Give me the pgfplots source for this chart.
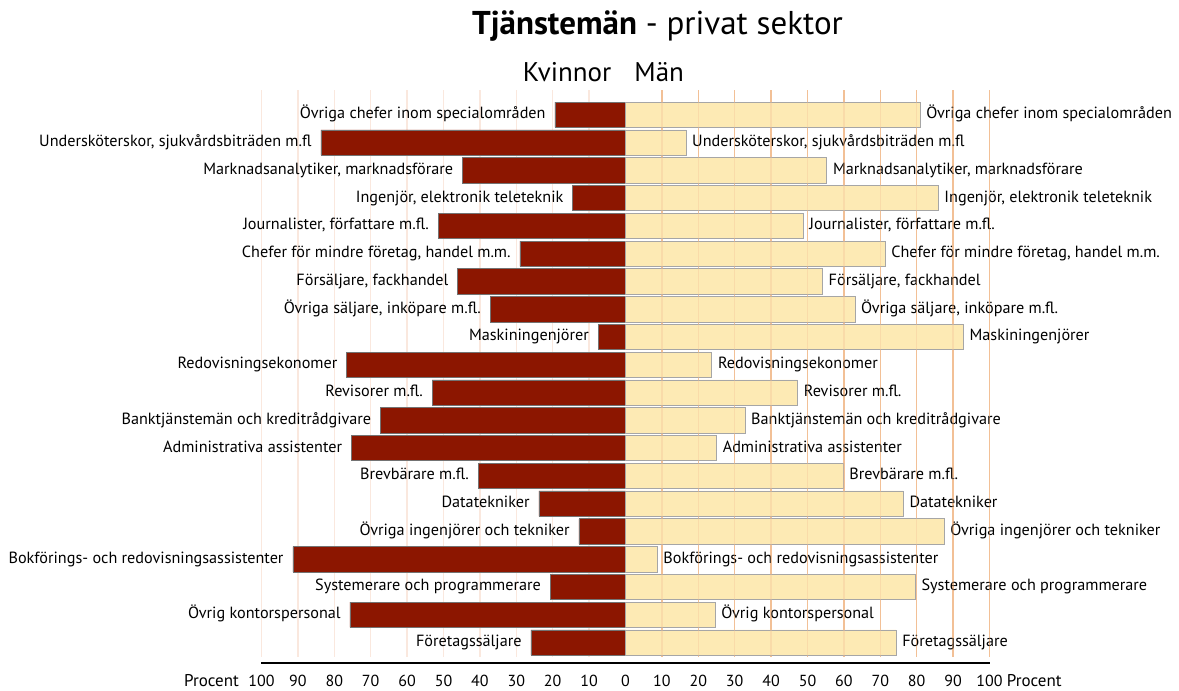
\documentclass[border=0pt]{standalone}
\usepackage{pgfplots}
\pgfplotsset{compat=1.18}
\usepackage{pgfplotstable}
\usepackage{fontspec}
\setmainfont{PT Sans}
\definecolor{womc}{RGB}{140,22,0}
\definecolor{menc}{RGB}{253,234,180}
\definecolor{gridR}{RGB}{242,192,150}
\definecolor{gridL}{RGB}{250,232,222}

\pgfplotstableread[col sep=semicolon]{
y;W;M;label
20;19.4;80.9;Övriga chefer inom specialområden
19;83.7;16.6;Undersköterskor, sjukvårdsbiträden m.fl
18;44.8;55.3;Marknadsanalytiker, marknadsförare
17;14.5;85.9;Ingenjör, elektronik teleteknik
16;51.5;48.8;Journalister, författare m.fl.
15;29.0;71.3;Chefer för mindre företag, handel m.m.
14;46.1;54.1;Försäljare, fackhandel
13;37.2;63.0;Övriga säljare, inköpare m.fl.
12;7.5;92.8;Maskiningenjörer
11;76.6;23.7;Redovisningsekonomer
10;53.1;47.3;Revisorer m.fl.
9;67.3;32.8;Banktjänstemän och kreditrådgivare
8;75.3;25.0;Administrativa assistenter
7;40.5;59.8;Brevbärare m.fl.
6;23.8;76.3;Datatekniker
5;12.8;87.5;Övriga ingenjörer och tekniker
4;91.4;8.7;Bokförings- och redovisningsassistenter
3;20.7;79.6;Systemerare och programmerare
2;75.7;24.6;Övrig kontorspersonal
1;26.0;74.3;Företagssäljare
}\data

\begin{document}
\begin{tikzpicture}
\begin{axis}[
  set layers,
  scale only axis, width=364pt, height=286.6pt,
  xmin=-100, xmax=100, ymin=0.262, ymax=20.9,
  axis x line*=bottom, axis y line=none,
  x axis line style={-, line width=0.9pt, black},
  xtick={-100,-90,...,100},
  xticklabels={100,90,80,70,60,50,40,30,20,10,0,10,20,30,40,50,60,70,80,90,100},
  major tick length=0pt,
  xticklabel style={font=\fontsize{8}{10}\selectfont, anchor=base, yshift=-11.85pt, inner sep=0pt},
  ytick=\empty,
  clip=false,
]
\begin{pgfonlayer}{axis background}
\pgfplotsinvokeforeach{-100,-90,...,-10}{\draw[gridL, line width=0.7pt] (axis cs:#1,0.49) -- (axis cs:#1,20.9);}
\pgfplotsinvokeforeach{10,20,...,100}{\draw[gridR, line width=0.7pt] (axis cs:#1,0.49) -- (axis cs:#1,20.9);}
\end{pgfonlayer}
\addplot[xbar, bar width=0.91, bar shift=0pt, fill=womc, draw=black!55, line width=0.3pt,
  point meta=explicit symbolic, nodes near coords,
  every node near coord/.append style={anchor=base east, xshift=-4.5pt, yshift=-2pt, text=black, font=\fontsize{8.1}{10}\selectfont, inner sep=0pt}]
  table[x expr=-\thisrow{W}, y=y, meta=label]{\data};
\addplot[xbar, bar width=0.91, bar shift=0pt, fill=menc, draw=black!35, line width=0.3pt,
  point meta=explicit symbolic, nodes near coords,
  every node near coord/.append style={anchor=base west, xshift=3pt, yshift=-2pt, text=black, font=\fontsize{8.1}{10}\selectfont, inner sep=0pt}]
  table[x=M, y=y, meta=label]{\data};
\begin{pgfonlayer}{axis foreground}
\pgfplotsinvokeforeach{10,20,...,100}{\draw[gridR, opacity=0.35, line width=0.7pt] (axis cs:#1,0.49) -- (axis cs:#1,20.9);}
\end{pgfonlayer}
\end{axis}
\node[anchor=base, inner sep=0pt, font=\fontsize{16.5}{19}\selectfont] at (198pt,314pt) {\textbf{Tjänstemän} - privat sektor};
\node[anchor=base east, inner sep=0pt, font=\fontsize{13.5}{16}\selectfont] at (175.1pt,290.65pt) {Kvinnor};
\node[anchor=base west, inner sep=0pt, font=\fontsize{13.5}{16}\selectfont] at (186.25pt,290.65pt) {Män};
\node[anchor=base east, inner sep=0pt, font=\fontsize{8.5}{10}\selectfont] at (-11.1pt,-11.85pt) {Procent};
\node[anchor=base west, inner sep=0pt, font=\fontsize{8.5}{10}\selectfont] at (372.5pt,-11.85pt) {Procent};
\pgfresetboundingbox
\path[use as bounding box] (-130.75pt,-14pt) rectangle (458.75pt,331.5pt);
\end{tikzpicture}
\end{document}
